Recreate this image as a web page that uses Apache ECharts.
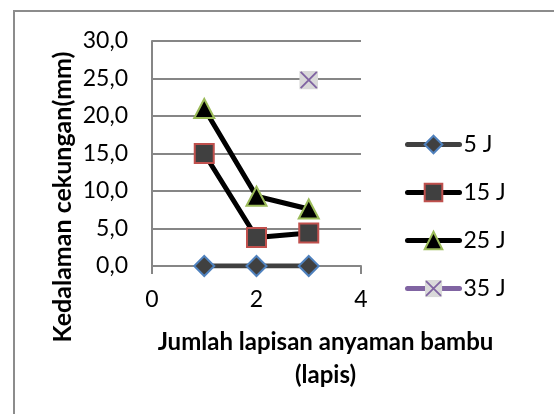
<!DOCTYPE html>
<html><head><meta charset="utf-8">
<script src="https://cdn.jsdelivr.net/npm/echarts@6/dist/echarts.min.js"></script>
<style>html,body{margin:0;padding:0;background:#fff}#c{width:554px;height:414px}</style>
</head><body><div id="c"></div>
<script>
const xValues = [1, 2, 3];
const s5J = [0, 0, 0];
const s15J = [15.0, 3.8, 4.4];
const s25J = [21.0, 9.3, 7.6];
const s35J = [null, null, 24.8];
const seriesNames = ['5 J', '15 J', '25 J', '35 J'];
const yTicks = [0, 5, 10, 15, 20, 25, 30];
const xTitle = 'Jumlah lapisan anyaman bambu\n(lapis)';
const yTitle = 'Kedalaman cekungan(mm)';

const F = 'Lato';
const toPairs = arr => xValues.map((x, i) => [x, arr[i]]).filter(p => p[1] !== null);
const xSym = 'image://data:image/svg+xml;utf8,' + encodeURIComponent(
  '<svg xmlns="http://www.w3.org/2000/svg" width="40" height="40" viewBox="0 0 40 40"><rect x="0" y="0" width="40" height="40" fill="#d9d9d9"/><path d="M3,3 L37,37 M37,3 L3,37" stroke="#8064a2" stroke-width="4"/></svg>');

const chart = echarts.init(document.getElementById('c'), null, {renderer: 'canvas'});
chart.setOption({
  animation: false,
  backgroundColor: '#fff',
  textStyle: {fontFamily: F},
  grid: {left: 152, right: 193, top: 41, bottom: 148, containLabel: false},
  xAxis: {
    type: 'value', min: 0, max: 4, interval: 2,
    axisLine: {show: true, onZero: true, lineStyle: {color: '#868686', width: 2}},
    axisTick: {show: true, length: 8, lineStyle: {color: '#868686', width: 2}},
    axisLabel: {color: '#000', fontSize: 23, fontFamily: F, margin: 22},
    splitLine: {show: false}
  },
  yAxis: {
    type: 'value', min: 0, max: 30, interval: 5,
    axisLine: {show: true, lineStyle: {color: '#868686', width: 2}},
    axisTick: {show: false},
    axisLabel: {color: '#000', fontSize: 23, fontFamily: F, margin: 24,
      formatter: v => v.toFixed(1).replace('.', ',')},
    splitLine: {show: true, lineStyle: {color: '#868686', width: 2}}
  },
  legend: {
    orient: 'vertical', left: 400, top: 128,
    itemWidth: 52, itemHeight: 22, itemGap: 25,
    lineStyle: {width: 5, cap: 'round'},
    textStyle: {fontSize: 23, fontFamily: F, color: '#000', padding: [0, 0, 0, -1]},
    data: seriesNames
  },
  series: [
    {name: seriesNames[0], type: 'line', data: toPairs(s5J), symbol: 'diamond', symbolSize: 20,
      lineStyle: {color: '#404040', width: 5, cap: 'round'},
      itemStyle: {color: '#404040', borderColor: '#4f81bd', borderWidth: 2}, z: 3},
    {name: seriesNames[1], type: 'line', data: toPairs(s15J), symbol: 'rect', symbolSize: 19,
      lineStyle: {color: '#000', width: 5, cap: 'round'},
      itemStyle: {color: '#404040', borderColor: '#c0504d', borderWidth: 2}, z: 4},
    {name: seriesNames[2], type: 'line', data: toPairs(s25J), symbol: 'triangle', symbolSize: [20, 19],
      lineStyle: {color: '#000', width: 5, cap: 'round'},
      itemStyle: {color: '#000', borderColor: '#9bbb59', borderWidth: 2}, z: 5},
    {name: seriesNames[3], type: 'line', data: toPairs(s35J), symbol: xSym, symbolSize: 19,
      lineStyle: {color: '#8064a2', width: 5, cap: 'round'},
      itemStyle: {color: '#8064a2'}, z: 6}
  ],
  graphic: [
    {type: 'rect', shape: {x: 14, y: 11, width: 600, height: 500},
      style: {fill: 'none', stroke: '#8c8c8c', lineWidth: 2}, silent: true, z: -1},
    {type: 'text', x: 325.5, y: 358.5,
      style: {text: xTitle, font: 'bold 24px ' + F, fill: '#000', align: 'center', verticalAlign: 'middle', lineHeight: 33}},
    {type: 'text', x: 63, y: 197, rotation: Math.PI / 2,
      style: {text: yTitle, font: 'bold 25px ' + F, fill: '#000', align: 'center', verticalAlign: 'middle'}}
  ]
});
</script></body></html>
